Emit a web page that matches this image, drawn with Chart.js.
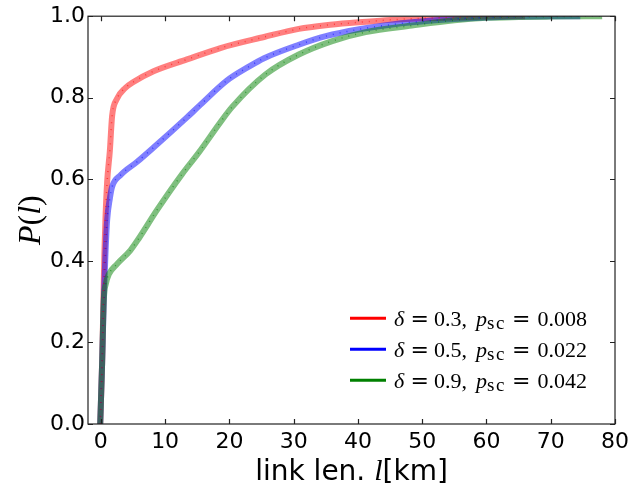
<!DOCTYPE html>
<html>
<head>
<meta charset="utf-8">
<script src="https://cdn.jsdelivr.net/npm/chart.js@4/dist/chart.umd.min.js"></script>
<style>
  html, body { margin: 0; padding: 0; background: #fff; }
  #wrap { width: 634px; height: 488px; }
</style>
</head>
<body>
<div id="wrap"><canvas id="cdf" width="634" height="488"></canvas></div>
<script>
// link length [km] and cumulative probability
const redLen = [-0.1, 0.2, 0.4, 0.55, 0.72, 0.98, 1.4, 1.75, 2.5, 3.8, 5, 8.2, 13.4, 18.6, 25.4, 30.8, 35, 40.2, 45, 50, 55, 60, 66];
const redP   = [0, 0.15, 0.3, 0.42, 0.505, 0.594, 0.67, 0.755, 0.797, 0.824, 0.838, 0.865, 0.894, 0.922, 0.949, 0.969, 0.978, 0.985, 0.991, 0.995, 0.997, 0.999, 1.0];

const blueLen = [-0.1, 0.2, 0.45, 0.7, 0.98, 1.4, 1.76, 3.05, 5.65, 8.2, 13.4, 15.3, 19.6, 23.1, 25.4, 30.8, 35, 40.2, 45, 48.4, 55, 60, 65, 70, 74.6];
const blueP   = [0, 0.15, 0.3, 0.41, 0.5, 0.553, 0.582, 0.61, 0.643, 0.678, 0.752, 0.78, 0.842, 0.877, 0.897, 0.93, 0.951, 0.968, 0.979, 0.985, 0.993, 0.997, 0.999, 1.0, 1.0];

const greenLen = [-0.1, 0.2, 0.45, 0.8, 1.24, 2.5, 4.6, 5.9, 8.75, 12.6, 15.3, 18.6, 20.4, 25.6, 30.8, 36, 41.2, 48.4, 55, 60, 65, 70, 78];
const greenP   = [0, 0.15, 0.3, 0.345, 0.367, 0.392, 0.426, 0.455, 0.525, 0.612, 0.667, 0.74, 0.777, 0.857, 0.906, 0.939, 0.961, 0.977, 0.99, 0.996, 0.998, 0.999, 1.0];

const seriesDelta = ["0.3", "0.5", "0.9"];
const seriesPsc = ["0.008", "0.022", "0.042"];
const xTicks = [0, 10, 20, 30, 40, 50, 60, 70, 80];
const yTicks = [0, 0.2, 0.4, 0.6, 0.8, 1.0];

const rgb = ["255,0,0", "0,0,255", "0,128,0"];
const lens = [redLen, blueLen, greenLen];
const probs = [redP, blueP, greenP];

const pts = (xs, ys) => xs.map((x, i) => ({ x: x, y: ys[i] }));

const datasets = [];
lens.forEach((xs, i) => {
  datasets.push({
    label: "d" + seriesDelta[i],
    data: pts(xs, probs[i]),
    borderColor: "rgba(" + rgb[i] + ",0.5)",
    borderWidth: 6,
    pointRadius: 0,
    cubicInterpolationMode: "monotone",
    order: 3 - i,
  });
});
// sparse darker dots along each curve
lens.forEach((xs, i) => {
  datasets.push({
    label: "dots" + i,
    data: pts(xs, probs[i]),
    borderColor: "rgba(" + rgb[i] + ",0.55)",
    borderWidth: 1.5,
    borderDash: [1, 6],
    pointRadius: 0,
    cubicInterpolationMode: "monotone",
    order: 0,
  });
});

const frame = {
  id: "frame",
  afterDatasetsDraw(chart) {
    const { ctx, chartArea: a, scales } = chart;
    ctx.save();
    ctx.strokeStyle = "#222";
    ctx.lineWidth = 1.2;
    ctx.strokeRect(a.left, a.top, a.right - a.left, a.bottom - a.top);
    ctx.beginPath();
    xTicks.forEach(v => {
      const px = Math.round(scales.x.getPixelForValue(v)) + 0.5;
      ctx.moveTo(px, a.bottom); ctx.lineTo(px, a.bottom - 5);
      ctx.moveTo(px, a.top); ctx.lineTo(px, a.top + 5);
    });
    yTicks.forEach(v => {
      const py = Math.round(scales.y.getPixelForValue(v)) + 0.5;
      ctx.moveTo(a.left, py); ctx.lineTo(a.left + 5, py);
      ctx.moveTo(a.right, py); ctx.lineTo(a.right - 5, py);
    });
    ctx.stroke();

    // legend
    const lx = a.left + 262, ly0 = a.top + 302, gap = 31;
    const serif = "'Liberation Serif'";
    seriesDelta.forEach((d, i) => {
      const y = ly0 + i * gap;
      ctx.strokeStyle = "rgb(" + rgb[i] + ")";
      ctx.lineWidth = 3;
      ctx.beginPath();
      ctx.moveTo(lx, y); ctx.lineTo(lx + 36, y);
      ctx.stroke();
      ctx.fillStyle = "#000";
      ctx.textBaseline = "alphabetic";
      const x0 = lx + 44, base = y + 8;
      const put = (t, font, dx, dy) => {
        ctx.font = font;
        ctx.fillText(t, x0 + dx, base + (dy || 0));
      };
      put("δ", "italic 22px " + serif, 0);
      put("=", "22px 'DejaVu Serif'", 16.5);
      put(d + ",", "22px " + serif, 40);
      put("p", "italic 22px " + serif, 82);
      put("s", "19px " + serif, 93, 2.5);
      put("c", "19px " + serif, 102, 2.5);
      put("=", "22px 'DejaVu Serif'", 118);
      put(seriesPsc[i], "22px " + serif, 143.5);
    });

    // axis titles
    ctx.fillStyle = "#000";
    ctx.textBaseline = "alphabetic";
    const parts = [["link len. ", "28px 'DejaVu Sans'"], ["l", "italic 30px " + serif], ["[km]", "28px 'DejaVu Sans'"]];
    let w = 0;
    parts.forEach(p => { ctx.font = p[1]; w += ctx.measureText(p[0]).width; });
    let x = (a.left + a.right) / 2 - w / 2;
    parts.forEach(p => { ctx.font = p[1]; ctx.fillText(p[0], x, 480); x += ctx.measureText(p[0]).width; });

    ctx.translate(40, (a.top + a.bottom) / 2);
    ctx.rotate(-Math.PI / 2);
    const yp = [["P", "italic 32px " + serif], ["(", "32px " + serif], ["l", "italic 32px " + serif], [")", "32px " + serif]];
    w = 0;
    yp.forEach(p => { ctx.font = p[1]; w += ctx.measureText(p[0]).width; });
    x = -w / 2;
    yp.forEach(p => { ctx.font = p[1]; ctx.fillText(p[0], x, 0); x += ctx.measureText(p[0]).width; });
    ctx.restore();
  }
};

new Chart(document.getElementById("cdf").getContext("2d"), {
  type: "line",
  data: { datasets: datasets },
  options: {
    responsive: false,
    animation: false,
    layout: { padding: { top: 16, right: 18, left: 0, bottom: 0 } },
    plugins: { legend: { display: false }, tooltip: { enabled: false } },
    scales: {
      x: {
        type: "linear",
        min: -2,
        max: 80,
        afterBuildTicks: s => { s.ticks = xTicks.map(v => ({ value: v })); },
        afterFit: s => { s.height = 64; },
        grid: { display: false, drawTicks: false, tickLength: 0 },
        border: { display: false },
        ticks: { font: { family: "DejaVu Sans", size: 22 }, color: "#000", padding: 5, maxRotation: 0 },
      },
      y: {
        type: "linear",
        min: 0,
        max: 1,
        afterBuildTicks: s => { s.ticks = yTicks.map(v => ({ value: v })); },
        afterFit: s => { s.width = 88; },
        grid: { display: false, drawTicks: false, tickLength: 0 },
        border: { display: false },
        ticks: { font: { family: "DejaVu Sans", size: 22 }, color: "#000", padding: 3, callback: v => v.toFixed(1) },
      },
    },
  },
  plugins: [frame],
});
</script>
</body>
</html>
